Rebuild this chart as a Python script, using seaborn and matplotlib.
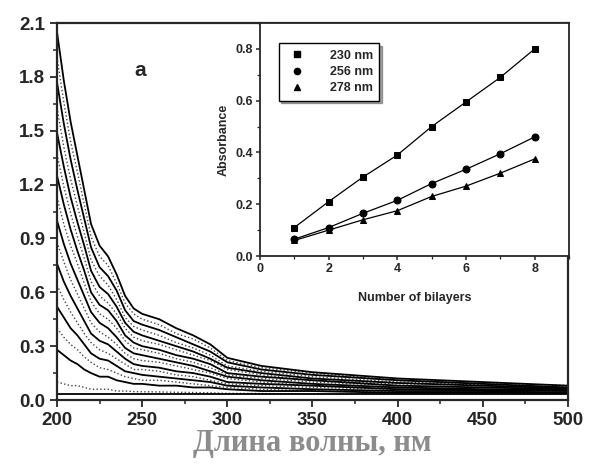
"""UV-vis spectra of multilayer film with inset growth curve"""
import matplotlib
matplotlib.use("Agg")
import matplotlib.pyplot as plt
from matplotlib.lines import Line2D
from matplotlib.ticker import MultipleLocator
import seaborn as sns
import pandas as pd

# Main panel: spectra
wavelength = [200, 204, 208, 212, 216, 220, 225, 230, 235, 240, 245,
              250, 260, 270, 280, 290, 300, 320, 350, 400, 450, 500]

solid_curves = [
    [0.28, 0.25, 0.22, 0.20, 0.17, 0.15, 0.13, 0.13, 0.11, 0.10, 0.09,
     0.09, 0.08, 0.08, 0.07, 0.07, 0.06, 0.05, 0.05, 0.04, 0.04, 0.04],
    [0.52, 0.46, 0.40, 0.36, 0.31, 0.26, 0.23, 0.22, 0.19, 0.16, 0.15,
     0.14, 0.13, 0.12, 0.11, 0.10, 0.08, 0.07, 0.06, 0.05, 0.05, 0.04],
    [0.76, 0.66, 0.58, 0.51, 0.44, 0.37, 0.33, 0.31, 0.27, 0.23, 0.20,
     0.19, 0.18, 0.16, 0.15, 0.13, 0.10, 0.09, 0.08, 0.06, 0.055, 0.05],
    [1.00, 0.87, 0.76, 0.67, 0.58, 0.49, 0.43, 0.40, 0.35, 0.29, 0.26,
     0.25, 0.23, 0.21, 0.19, 0.16, 0.13, 0.11, 0.09, 0.07, 0.06, 0.055],
    [1.25, 1.09, 0.95, 0.83, 0.72, 0.60, 0.53, 0.50, 0.44, 0.36, 0.32,
     0.30, 0.28, 0.25, 0.23, 0.20, 0.15, 0.13, 0.11, 0.08, 0.07, 0.06],
    [1.49, 1.30, 1.13, 0.99, 0.86, 0.72, 0.63, 0.59, 0.52, 0.43, 0.38,
     0.36, 0.33, 0.30, 0.27, 0.23, 0.18, 0.15, 0.12, 0.095, 0.08, 0.065],
    [1.77, 1.54, 1.34, 1.17, 1.01, 0.85, 0.74, 0.69, 0.61, 0.50, 0.44,
     0.42, 0.39, 0.35, 0.31, 0.27, 0.21, 0.17, 0.14, 0.11, 0.09, 0.07],
    [2.05, 1.78, 1.55, 1.36, 1.17, 0.98, 0.86, 0.80, 0.70, 0.58, 0.51,
     0.48, 0.45, 0.40, 0.36, 0.31, 0.235, 0.19, 0.155, 0.12, 0.10, 0.08],
]

dotted_curves = [
    [0.10, 0.09, 0.08, 0.08, 0.07, 0.06, 0.06, 0.06, 0.05, 0.05, 0.047,
     0.046, 0.045, 0.043, 0.042, 0.04, 0.037, 0.036, 0.034, 0.033, 0.032, 0.032],
    [0.40, 0.35, 0.31, 0.28, 0.24, 0.21, 0.18, 0.17, 0.15, 0.13, 0.12,
     0.11, 0.11, 0.10, 0.09, 0.08, 0.07, 0.06, 0.05, 0.045, 0.04, 0.04],
    [0.64, 0.56, 0.49, 0.43, 0.37, 0.32, 0.28, 0.26, 0.23, 0.20, 0.17,
     0.17, 0.16, 0.14, 0.13, 0.11, 0.09, 0.08, 0.07, 0.06, 0.05, 0.045],
    [0.88, 0.77, 0.67, 0.59, 0.51, 0.43, 0.38, 0.35, 0.31, 0.26, 0.23,
     0.22, 0.21, 0.19, 0.17, 0.15, 0.12, 0.10, 0.08, 0.07, 0.06, 0.05],
    [1.13, 0.98, 0.86, 0.76, 0.65, 0.55, 0.48, 0.45, 0.40, 0.33, 0.29,
     0.28, 0.26, 0.23, 0.21, 0.18, 0.14, 0.12, 0.10, 0.08, 0.07, 0.06],
    [1.37, 1.19, 1.04, 0.91, 0.79, 0.66, 0.58, 0.54, 0.48, 0.40, 0.35,
     0.33, 0.31, 0.28, 0.25, 0.22, 0.17, 0.14, 0.11, 0.09, 0.08, 0.06],
    [1.63, 1.41, 1.23, 1.08, 0.93, 0.78, 0.69, 0.64, 0.56, 0.46, 0.41,
     0.39, 0.36, 0.32, 0.29, 0.25, 0.19, 0.16, 0.13, 0.10, 0.085, 0.07],
    [1.91, 1.66, 1.44, 1.27, 1.09, 0.91, 0.80, 0.75, 0.65, 0.54, 0.48,
     0.45, 0.42, 0.37, 0.34, 0.29, 0.22, 0.18, 0.15, 0.11, 0.095, 0.08],
]

baseline = [0.035] * len(wavelength)

# Inset: absorbance vs number of bilayers
bilayers = [1, 2, 3, 4, 5, 6, 7, 8]
abs_230 = [0.11, 0.21, 0.305, 0.39, 0.50, 0.595, 0.69, 0.80]
abs_256 = [0.065, 0.11, 0.165, 0.215, 0.28, 0.335, 0.395, 0.46]
abs_278 = [0.06, 0.10, 0.14, 0.175, 0.23, 0.27, 0.32, 0.375]
inset_labels = ["230 nm", "256 nm", "278 nm"]
inset_markers = ["s", "o", "^"]

sns.set_style("ticks")
plt.rcParams["font.family"] = ["Liberation Sans", "DejaVu Sans"]

fig = plt.figure(figsize=(5.93, 4.66), dpi=100)
ax = fig.add_axes([0.0961, 0.1416, 0.8617, 0.809])

for curve in dotted_curves:
    sns.lineplot(x=wavelength, y=curve, ax=ax, color="#444444", lw=1.0,
                 linestyle=":")
for curve in solid_curves:
    sns.lineplot(x=wavelength, y=curve, ax=ax, color="black", lw=1.3)
sns.lineplot(x=wavelength, y=baseline, ax=ax, color="black", lw=1.3)

ax.set_xlim(200, 500)
ax.set_ylim(0, 2.1)
ax.xaxis.set_major_locator(MultipleLocator(50))
ax.xaxis.set_minor_locator(MultipleLocator(25))
ax.yaxis.set_major_locator(MultipleLocator(0.3))
ax.yaxis.set_minor_locator(MultipleLocator(0.15))
ax.yaxis.set_major_formatter(matplotlib.ticker.FormatStrFormatter("%.1f"))
ax.tick_params(which="major", direction="out", length=5, width=1.3,
               labelsize=13.5)
ax.tick_params(which="minor", direction="out", length=3, width=1.1)
for lab in ax.get_xticklabels() + ax.get_yticklabels():
    lab.set_fontweight("bold")
for sp in ax.spines.values():
    sp.set_visible(True)
    sp.set_linewidth(1.6)

ax.set_xlabel("Длина волны, нм", family=["Liberation Serif", "DejaVu Serif"],
              fontsize=22, fontweight="bold", color="#8c8c8c", labelpad=0)
ax.set_ylabel("")
ax.text(0.163, 0.875, "a", transform=ax.transAxes, fontsize=15,
        fontweight="bold", ha="center", va="center")

# Inset
ins = fig.add_axes([0.4384, 0.4506, 0.5211, 0.5])
ins.set_facecolor("white")
series = [abs_230, abs_256, abs_278]
for vals, mk in zip(series, inset_markers):
    sns.lineplot(x=bilayers, y=vals, ax=ins, color="black", lw=0.9,
                 marker=mk, markersize=5, markeredgecolor="black")
ins.set_xlim(0, 9)
ins.set_ylim(0, 0.9)
ins.xaxis.set_major_locator(MultipleLocator(2))
ins.xaxis.set_minor_locator(MultipleLocator(1))
ins.yaxis.set_major_locator(MultipleLocator(0.2))
ins.yaxis.set_minor_locator(MultipleLocator(0.1))
ins.yaxis.set_major_formatter(matplotlib.ticker.FormatStrFormatter("%.1f"))
ins.tick_params(which="major", direction="out", length=3, width=1.1,
                labelsize=9, pad=2)
ins.tick_params(which="minor", direction="out", length=2, width=0.9)
for lab in ins.get_xticklabels() + ins.get_yticklabels():
    lab.set_fontweight("bold")
for sp in ins.spines.values():
    sp.set_visible(True)
    sp.set_linewidth(1.3)
ins.set_xlabel("Number of bilayers", fontsize=9, fontweight="bold",
               labelpad=12)
ins.set_ylabel("Absorbance", fontsize=9, fontweight="bold", labelpad=4)

handles = [Line2D([], [], color="black", marker=mk, linestyle="none",
                  markersize=4.5) for mk in inset_markers]
leg = ins.legend(handles, inset_labels, loc="upper left",
                 bbox_to_anchor=(0.04, 0.94), fontsize=9, frameon=True,
                 fancybox=False, shadow=True, handletextpad=1.6,
                 borderpad=0.5, labelspacing=0.35)
leg.get_frame().set_edgecolor("black")
leg.get_frame().set_linewidth(1.0)
for t in leg.get_texts():
    t.set_fontweight("bold")

fig.savefig("out.png", dpi=100)
